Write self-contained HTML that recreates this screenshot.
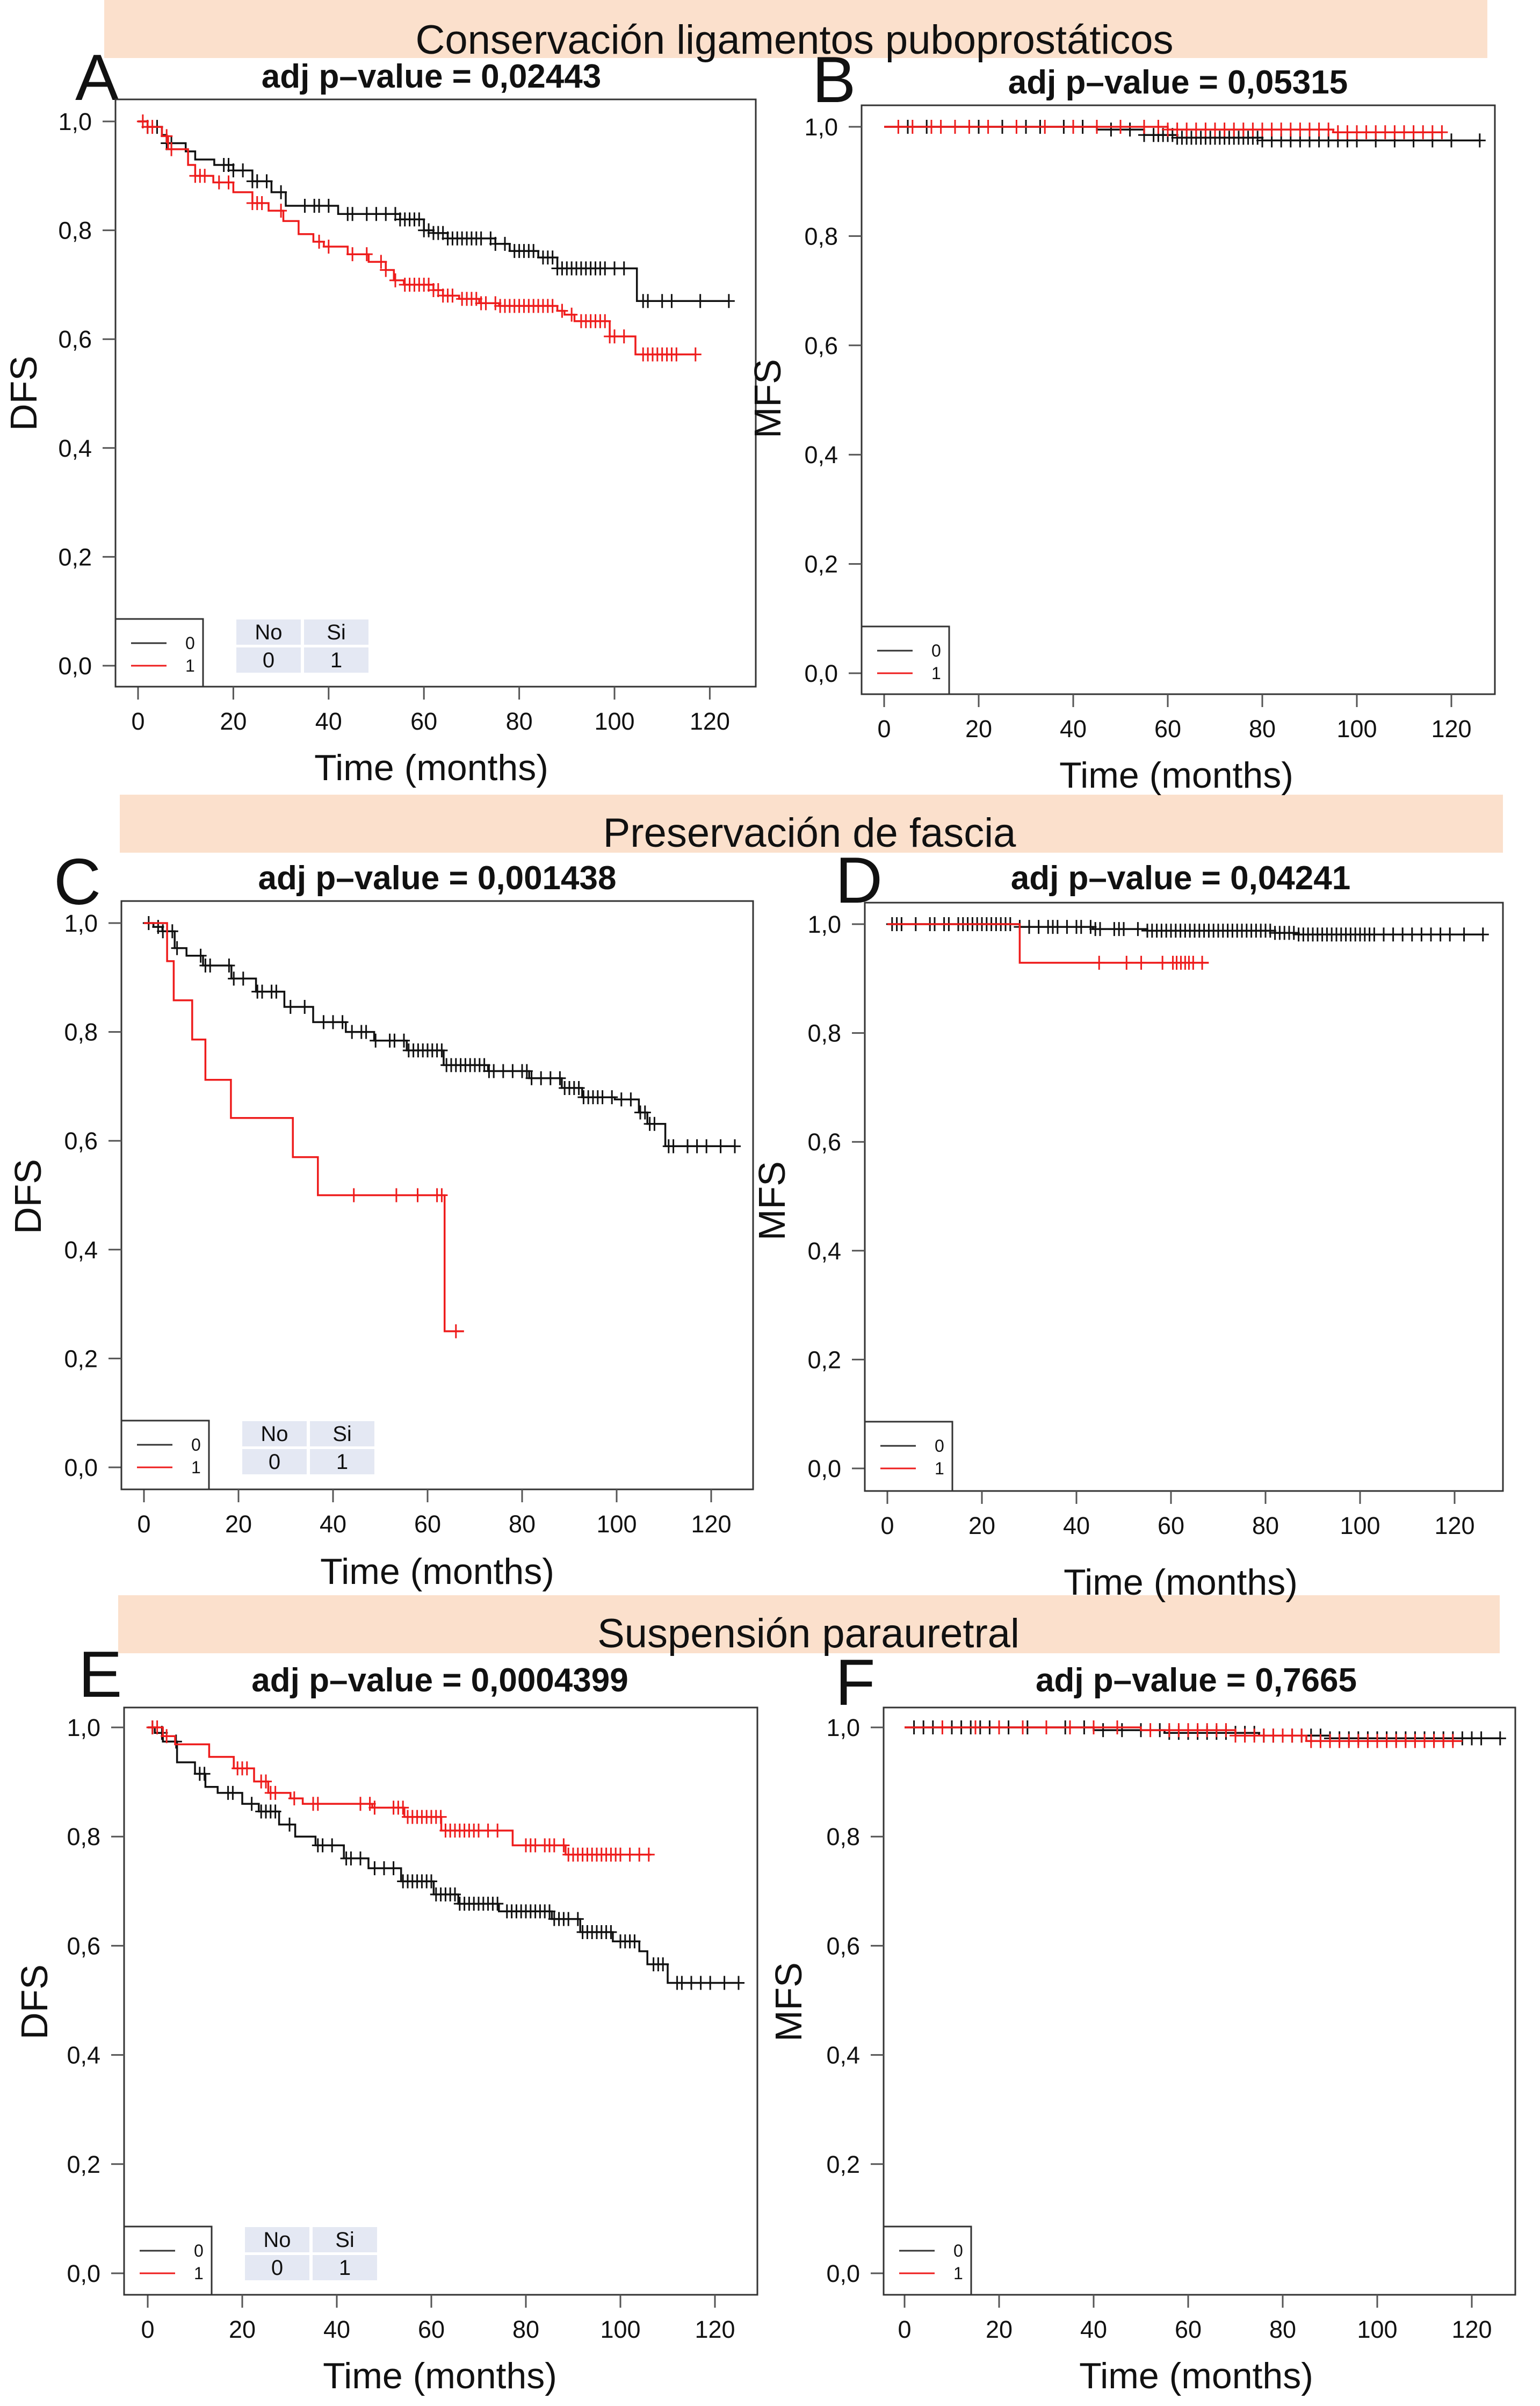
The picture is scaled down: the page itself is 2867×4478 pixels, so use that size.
<!DOCTYPE html>
<html><head><meta charset="utf-8"><style>
html,body{margin:0;padding:0;background:#fff;}
svg{display:block;font-family:"Liberation Sans",sans-serif;}
</style></head><body>
<svg id="fig" width="2867" height="4478" viewBox="0 0 2867 4478" xmlns="http://www.w3.org/2000/svg">
<rect x="0" y="0" width="2867" height="4478" fill="#fff"/>
<g>
<rect x="194" y="0" width="2575" height="108" fill="#fbe0cc"/>
<text x="1479" y="100" font-size="76" text-anchor="middle" fill="#111">Conservación ligamentos puboprostáticos</text></g>
<g>
<rect x="223" y="1479" width="2575" height="108" fill="#fbe0cc"/>
<text x="1507" y="1576" font-size="76" text-anchor="middle" fill="#111">Preservación de fascia</text></g>
<g>
<rect x="220" y="2969" width="2572" height="108" fill="#fbe0cc"/>
<text x="1505" y="3066" font-size="76" text-anchor="middle" fill="#111">Suspensión parauretral</text></g>
</svg>
<script>
const A0_t=[0,2,5,6,10,12,16,20,24,28,31,42,55,60,62,65,75,78,84,88,104.7];
const A0_s=[1,.99,.975,.96,.945,.93,.92,.91,.89,.87,.845,.83,.82,.80,.795,.785,.775,.762,.75,.73,.67];
const A0_end=124;
const A0_c=[2,4,6,7,18,19,20,22,24,25,27,30,35,37,38,40,44,45,48,50,52,54,55,56,57,58,59,60,61,62,63,64,65,66,67,68,69,70,71,72,74,75,77,79,80,81,82,83,85,86,87,88,89,90,91,92,93,94,95,96,97,98,100,102,106,107,110,112,118,124];
const A1_t=[0,2,5,6.3,10.5,12,15.8,20,24,27.4,30.5,33.7,36.8,39,44,48.4,52,53.7,55.8,62,64,67.4,71.6,75.8,88,89.5,91.6,99,104.4];
const A1_s=[1,.99,.973,.949,.92,.90,.888,.87,.85,.836,.817,.793,.779,.77,.756,.742,.727,.708,.70,.69,.68,.674,.666,.661,.652,.645,.633,.605,.572];
const A1_end=117;
const A1_c=[1,2,3,6,7,12,13,14,17,19,24,25,26,30,38,40,45,48,51,52,54,56,57,58,59,60,61,62,63,64,65,66,68,69,70,71,72,73,75,76,77,78,79,80,81,82,83,84,85,86,87,89,91,93,94,95,96,97,98,99,100,102,106,107,108,109,110,111,112,113,117];

const B0_t=[0,45,55,62,80];
const B0_s=[1,.995,.985,.98,.975];
const B0_end=126;
const B0_c=[5,9,10,20,25,30,33,38,42,48,52,55,57,58,59,60,61,62,63,64,65,66,67,68,69,70,71,72,73,74,75,76,77,78,79,80,82,84,86,88,90,92,94,96,98,100,104,108,112,116,120,126];
const B1_t=[0,60,95];
const B1_s=[1,.995,.99];
const B1_end=118;
const B1_c=[3,6,10,12,15,18,22,28,34,40,45,50,55,58,60,62,64,66,68,70,72,74,76,78,80,82,84,86,88,90,92,94,96,98,100,102,104,106,108,110,112,114,116,118];

const C0_t=[0,2,3.9,6.5,9,12.5,18.5,23.7,29.7,35.8,42.7,48.7,55.6,63.4,72.8,81.5,88.4,92.7,99.6,104.7,106.5,110.3];
const C0_s=[1,.993,.985,.954,.94,.922,.898,.874,.846,.818,.80,.784,.766,.739,.728,.715,.697,.68,.676,.652,.631,.59];
const C0_end=125;
const C0_c=[1,3,4,6,7,12,13,14,18,19,21,24,25,27,28,31,34,38,40,42,44,46,47,49,52,53,55,56,57,58,59,60,61,62,63,64,65,66,67,68,69,70,71,72,73,74,76,78,80,81,82,84,86,88,89,90,91,92,93,94,95,96,97,99,101,103,105,106,107,108,111,112,115,117,119,122,125];
const C1_t=[0,4.9,6.3,10.2,13,18.4,31.5,36.8,63.6];
const C1_s=[1,.93,.858,.786,.712,.642,.57,.50,.25];
const C1_end=67.7;
const C1_c=[44.4,53.4,57.9,62,63,66];

const D0_t=[0,28,43.5,55,82,87];
const D0_s=[1,.995,.991,.988,.984,.981];
const D0_end=126;
const D0_c=[1,2,3,6,9,10,12,13,15,16,17,18,19,20,21,22,23,24,25,26,28,30,32,34,35,36,38,40,41,43,44,45,48,49,50,53,55,56,57,58,59,60,61,62,63,64,65,66,67,68,69,70,71,72,73,74,75,76,77,78,79,80,81,82,83,84,85,86,87,88,89,90,91,92,93,94,95,96,97,98,99,100,101,102,103,105,107,109,111,113,115,117,119,122,126];
const D1_t=[0,28];
const D1_s=[1,.929];
const D1_end=68;
const D1_c=[44.8,50.6,53.7,58.2,60.4,61.2,62.1,63,63.8,64.7,66.6];

const E0_t=[0,1.5,3.2,6.2,10,12.2,14.8,20,23.5,27.8,31.2,35.5,41.5,46.7,53.6,60.5,65.7,74.3,85.5,91.5,98.4,104,105.7,110];
const E0_s=[1,.99,.974,.936,.915,.891,.88,.86,.846,.822,.80,.784,.76,.742,.718,.694,.677,.663,.649,.625,.608,.59,.566,.532];
const E0_end=125;
const E0_c=[1,3,6,11,12,17,18,22,24,25,26,27,30,36,37,39,42,43,45,48,50,52,54,55,56,57,58,59,60,61,62,63,64,65,66,67,68,69,70,71,72,73,74,76,77,78,79,80,81,82,83,84,85,86,87,88,89,91,92,93,94,95,96,97,98,100,101,102,103,107,108,109,112,113,115,117,119,122,125];
const E1_t=[0,3.2,5.8,13,18.2,22.5,25.5,30.2,32.8,47.5,54.3,62.1,77.2,88.4];
const E1_s=[1,.984,.969,.946,.925,.901,.88,.87,.86,.853,.836,.811,.784,.767];
const E1_end=106.5;
const E1_c=[1,2,4,19,20,21,24,25,26,27,31,35,36,45,47,48,52,53,54,55,56,57,58,59,60,61,62,63,64,65,66,67,68,69,70,72,74,80,81,82,84,85,86,88,89,90,91,92,93,94,95,96,97,98,99,100,102,104,106];

const F0_t=[0,40,55,75,90];
const F0_s=[1,.995,.99,.985,.98];
const F0_end=126;
const F0_c=[2,4,6,10,12,14,16,18,20,22,26,30,34,38,42,46,50,54,56,58,60,62,64,66,68,70,72,74,76,78,80,82,84,86,88,90,92,94,96,98,100,102,104,106,108,110,112,114,116,118,120,122,126];
const F1_t=[0,50,70,85];
const F1_s=[1,.995,.985,.975];
const F1_end=118;
const F1_c=[8,15,20,25,30,35,40,45,52,56,58,60,62,64,66,68,70,72,74,76,78,80,82,84,86,88,90,92,94,96,98,100,102,104,106,108,110,112,114,116];

const xTicks=[0,20,40,60,80,100,120];
const yTicks=[0,0.2,0.4,0.6,0.8,1.0];
const yTickLabels=["0,0","0,2","0,4","0,6","0,8","1,0"];

const NS="http://www.w3.org/2000/svg";
const svg=document.getElementById('fig');
function mk(tag,attrs,parent){const e=document.createElementNS(NS,tag);for(const k in attrs)e.setAttribute(k,attrs[k]);(parent||svg).appendChild(e);return e;}

const panels=[
 {id:'a',L:215,T:185,R:1407,B:1278,x0:257,pxm:8.87,y0:1239,y1:226,ylab:'DFS',ylx:68,yly:732,title:'adj p\u2013value = 0,02443',tx:803,ty:163,let:'A',lx:140,lby:186,timex:803,timey:1452,table:true,
  s:[[A0_t,A0_s,A0_end,A0_c,'#111'],[A1_t,A1_s,A1_end,A1_c,'#ee1c1c']]},
 {id:'b',L:1604,T:196,R:2783,B:1292,x0:1646,pxm:8.8,y0:1253,y1:236,ylab:'MFS',ylx:1453,yly:742,title:'adj p\u2013value = 0,05315',tx:2193,ty:174,let:'B',lx:1512,lby:190,timex:2190,timey:1466,table:false,
  s:[[B0_t,B0_s,B0_end,B0_c,'#111'],[B1_t,B1_s,B1_end,B1_c,'#ee1c1c']]},
 {id:'c',L:226,T:1677,R:1402,B:2772,x0:268,pxm:8.8,y0:2731,y1:1718,ylab:'DFS',ylx:76,yly:2227,title:'adj p\u2013value = 0,001438',tx:814,ty:1655,let:'C',lx:100,lby:1683,timex:814,timey:2948,table:true,
  s:[[C0_t,C0_s,C0_end,C0_c,'#111'],[C1_t,C1_s,C1_end,C1_c,'#ee1c1c']]},
 {id:'d',L:1610,T:1680,R:2798,B:2775,x0:1652,pxm:8.8,y0:2733,y1:1720,ylab:'MFS',ylx:1461,yly:2235,title:'adj p\u2013value = 0,04241',tx:2198,ty:1655,let:'D',lx:1555,lby:1680,timex:2198,timey:2968,table:false,
  s:[[D0_t,D0_s,D0_end,D0_c,'#111'],[D1_t,D1_s,D1_end,D1_c,'#ee1c1c']]},
 {id:'e',L:231,T:3178,R:1410,B:4271,x0:275,pxm:8.8,y0:4231,y1:3215,ylab:'DFS',ylx:88,yly:3726,title:'adj p\u2013value = 0,0004399',tx:819,ty:3148,let:'E',lx:146,lby:3158,timex:819,timey:4445,table:true,
  s:[[E0_t,E0_s,E0_end,E0_c,'#111'],[E1_t,E1_s,E1_end,E1_c,'#ee1c1c']]},
 {id:'f',L:1645,T:3178,R:2821,B:4271,x0:1684,pxm:8.8,y0:4231,y1:3215,ylab:'MFS',ylx:1492,yly:3726,title:'adj p\u2013value = 0,7665',tx:2227,ty:3148,let:'F',lx:1555,lby:3173,timex:2227,timey:4445,table:false,
  s:[[F0_t,F0_s,F0_end,F0_c,'#111'],[F1_t,F1_s,F1_end,F1_c,'#ee1c1c']]}
];

function survAt(t,s,m){let v=s[0];for(let i=0;i<t.length;i++){if(t[i]<=m)v=s[i];}return v;}

panels.forEach(p=>{
 const X=m=>p.x0+m*p.pxm;
 const Y=v=>p.y0-v*(p.y0-p.y1);
 const g=mk('g',{});
 
 
 const lt=mk('text',{x:p.lx,y:p.lby,'font-size':122,fill:'#111'},g);lt.textContent=p.let;
 
 
 const tt=mk('text',{x:p.tx,y:p.ty,'font-size':62,'font-weight':'bold','text-anchor':'middle',fill:'#111'},g);tt.textContent=p.title;
 
 
 const fr=mk('rect',{x:p.L,y:p.T,width:p.R-p.L,height:p.B-p.T,fill:'none',stroke:'#333','stroke-width':3},g);
 
 
 xTicks.forEach(v=>{
  const tk=mk('line',{x1:X(v),x2:X(v),y1:p.B,y2:p.B+24,stroke:'#555','stroke-width':3},g);
  
  
  const tl=mk('text',{x:X(v),y:p.B+80,'font-size':45,'text-anchor':'middle',fill:'#111'},g);tl.textContent=String(v);
  
  
 });
 yTicks.forEach((v,i)=>{
  const tk=mk('line',{x1:p.L-24,x2:p.L,y1:Y(v),y2:Y(v),stroke:'#555','stroke-width':3},g);
  
  
  const tl=mk('text',{x:p.L-44,y:Y(v)+16,'font-size':45,'text-anchor':'end',fill:'#111'},g);tl.textContent=yTickLabels[i];
  
  
 });
 const xl=mk('text',{x:p.timex,y:p.timey,'font-size':68,'text-anchor':'middle',fill:'#111'},g);xl.textContent='Time (months)';
 
 
 const yl=mk('text',{x:p.ylx,y:p.yly,'font-size':70,'text-anchor':'middle',fill:'#111',transform:'rotate(-90 '+p.ylx+' '+p.yly+')'},g);yl.textContent=p.ylab;
 
 
 p.s.forEach((sr,k)=>{
  const [t,s,end,c,col]=sr;
  let d='M'+X(t[0])+' '+Y(s[0]);
  for(let i=1;i<t.length;i++){d+=' H'+X(t[i]).toFixed(1)+' V'+Y(s[i]).toFixed(1);}
  d+=' H'+X(end).toFixed(1);
  const path=mk('path',{d:d,fill:'none',stroke:col,'stroke-width':3.5},g);
  
  
  c.forEach(m=>{
   const cx=X(m),cy=Y(survAt(t,s,m));
   const cm=mk('path',{d:'M'+(cx-11)+' '+cy+' H'+(cx+11)+' M'+cx+' '+(cy-13)+' V'+(cy+13),stroke:col,'stroke-width':3,fill:'none'},g);
   
   
  });
 });
 const lg=mk('g',{},g);
 
 
 mk('rect',{x:p.L,y:p.y0-87,width:163,height:p.B-(p.y0-87),fill:'#fff',stroke:'#333','stroke-width':3},lg);
 [['0','#333',p.y0-42],['1','#ee1c1c',p.y0]].forEach(e=>{
  const ln=mk('line',{x1:p.L+29,x2:p.L+95,y1:e[2],y2:e[2],stroke:e[1],'stroke-width':3},lg);
  
  
  const tx=mk('text',{x:p.L+130,y:e[2]+11,'font-size':32,fill:'#111'},lg);tx.textContent=e[0];
  
  
 });
 if(p.table){
  const tb=mk('g',{},g);
  
  
  const cells=[['No',p.L+225,p.y0-86],['Si',p.L+351,p.y0-86],['0',p.L+225,p.y0-34],['1',p.L+351,p.y0-34]];
  cells.forEach(cl=>{
   mk('rect',{x:cl[1],y:cl[2],width:120,height:47,fill:'#e4e8f3'},tb);
   const tx=mk('text',{x:cl[1]+60,y:cl[2]+37,'font-size':40,'text-anchor':'middle',fill:'#111'},tb);tx.textContent=cl[0];
   
   
  });
 }
});
</script>
</body></html>
